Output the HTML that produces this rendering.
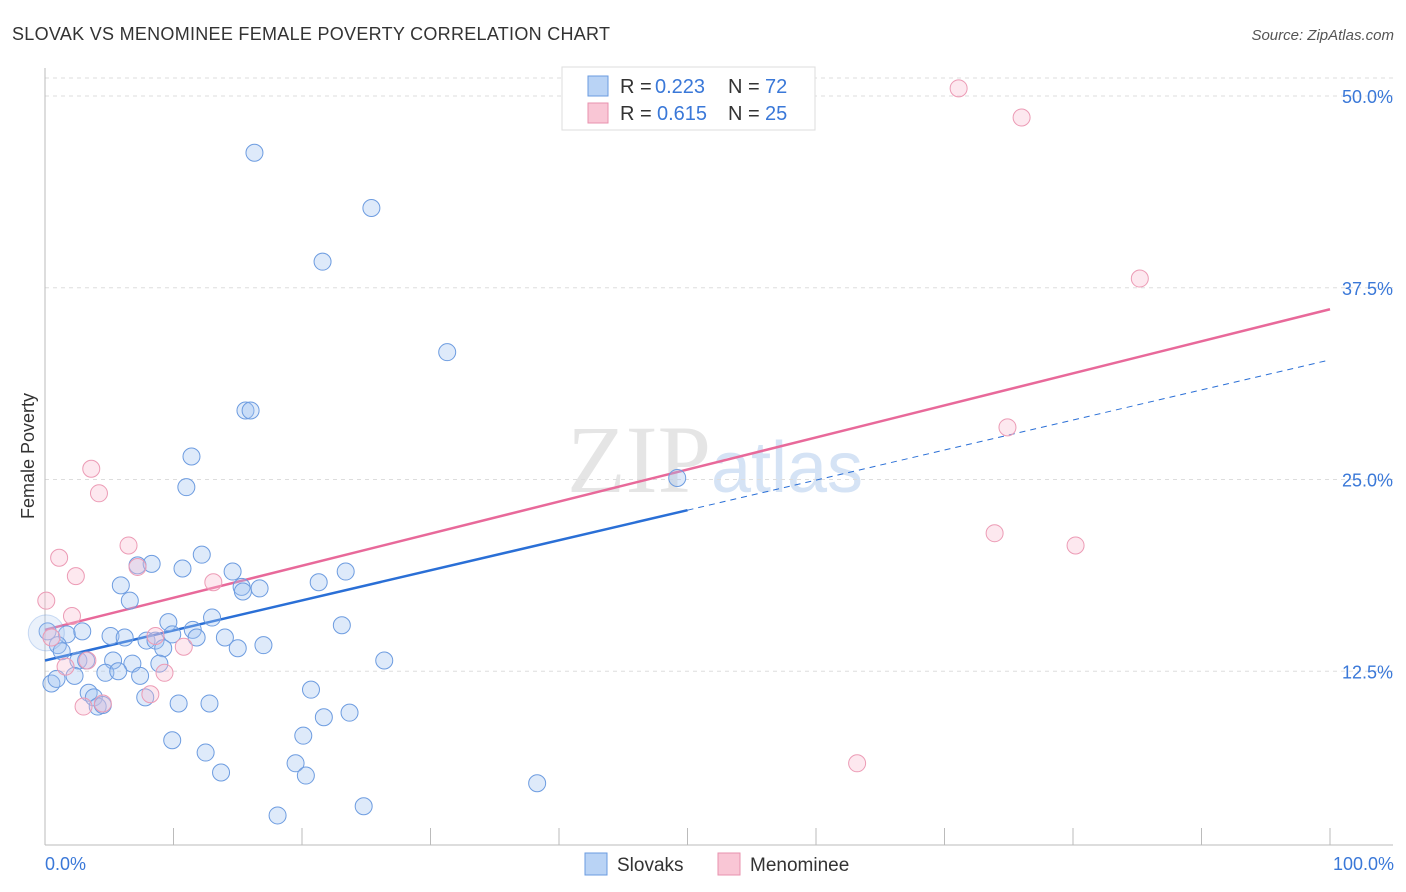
<!DOCTYPE html>
<html><head><meta charset="utf-8"><style>
body{margin:0;background:#fff;font-family:"Liberation Sans",sans-serif;}
svg{display:block}
</style></head><body>
<svg id="chart" width="1406" height="892" xmlns="http://www.w3.org/2000/svg">
<text x="12" y="40" font-size="18" fill="#333" textLength="598">SLOVAK VS MENOMINEE FEMALE POVERTY CORRELATION CHART</text>
<text x="1394" y="40" font-size="15" fill="#555" font-style="italic" text-anchor="end">Source: ZipAtlas.com</text>
<text x="34" y="456" font-size="18" fill="#333" transform="rotate(-90 34 456)" text-anchor="middle">Female Poverty</text>
<text x="715" y="492" font-size="96" fill="#e5e5e5" text-anchor="middle" font-family="Liberation Serif,serif">ZIP<tspan fill="#d5e3f5" font-family="Liberation Sans,sans-serif" font-size="72">atlas</tspan></text>
<g id="grid"></g><g id="axes"></g><g id="lines"></g><g id="pts"></g>
<g>
<rect x="562" y="67" width="253" height="63" fill="#fff" stroke="#ddd"/>
<rect x="588" y="76" width="20" height="20" fill="#b9d3f5" stroke="#6a9be0"/>
<rect x="588" y="103" width="20" height="20" fill="#f9c6d5" stroke="#e892ae"/>
<g font-size="20" fill="#333"><text x="620" y="93">R =</text><text x="655" y="93" fill="#3a78d8">0.223</text><text x="728" y="93">N =</text><text x="765" y="93" fill="#3a78d8">72</text></g>
<g font-size="20" fill="#333"><text x="620" y="120">R =</text><text x="657" y="120" fill="#3a78d8">0.615</text><text x="728" y="120">N =</text><text x="765" y="120" fill="#3a78d8">25</text></g>
</g>
<g>
<rect x="585" y="853" width="22" height="22" fill="#b9d3f5" stroke="#6a9be0"/>
<text x="617" y="871" font-size="19" fill="#333">Slovaks</text>
<rect x="718" y="853" width="22" height="22" fill="#f9c6d5" stroke="#e892ae"/>
<text x="750" y="871" font-size="19" fill="#333">Menominee</text>
</g>
<text x="45" y="870" font-size="18" fill="#3a78d8">0.0%</text>
<text x="1394" y="870" font-size="18" fill="#3a78d8" text-anchor="end">100.0%</text>
</svg>
<script>
const yTicks=[12.5,25,37.5,50];
const yTickLabels=["12.5%","25.0%","37.5%","50.0%"];
const slovakX=[16.3,25.4,21.6,31.3,15.6,16.0,11.4,11.0,49.2,12.2,7.2,8.3,10.7,14.6,23.4,21.3,5.9,15.3,16.7,15.4,6.6,9.6,13.0,23.1,0.2,1.7,2.9,5.1,6.2,7.9,8.6,9.9,11.5,11.8,14.0,15.0,17.0,9.2,1.0,1.3,2.6,3.2,5.3,6.8,8.9,26.4,2.3,4.7,5.7,7.4,0.5,0.9,3.4,3.8,7.8,20.7,10.4,12.8,4.1,4.5,21.7,23.7,20.1,9.9,12.5,19.5,13.7,20.3,38.3,24.8,18.1,0.1];
const slovakY=[46.3,42.7,39.2,33.3,29.5,29.5,26.5,24.5,25.1,20.1,19.4,19.5,19.2,19.0,19.0,18.3,18.1,18.0,17.9,17.7,17.1,15.7,16.0,15.5,15.1,14.9,15.1,14.8,14.7,14.5,14.5,14.9,15.2,14.7,14.7,14.0,14.2,14.0,14.2,13.8,13.2,13.2,13.2,13.0,13.0,13.2,12.2,12.4,12.5,12.2,11.7,12.0,11.1,10.8,10.8,11.3,10.4,10.4,10.2,10.3,9.5,9.8,8.3,8.0,7.2,6.5,5.9,5.7,5.2,3.7,3.1,15.0];
const menomineeX=[71.1,76.0,85.2,74.9,73.9,80.2,63.2,3.6,4.2,6.5,1.1,2.4,7.2,13.1,0.1,2.1,0.5,8.6,10.8,3.3,1.6,9.3,8.2,3.0,4.5];
const menomineeY=[50.5,48.6,38.1,28.4,21.5,20.7,6.5,25.7,24.1,20.7,19.9,18.7,19.3,18.3,17.1,16.1,14.7,14.8,14.1,13.2,12.8,12.4,11.0,10.2,10.4];
const slovakTrend=[13.2,32.8];
const menomineeTrend=[15.2,36.1];
const NS="http://www.w3.org/2000/svg";
const X=v=>45+v*12.85, Y=v=>863-v*15.34;
function mk(t,a,p){const e=document.createElementNS(NS,t);for(const k in a)e.setAttribute(k,a[k]);document.getElementById(p).appendChild(e);return e;}
yTicks.forEach((t,i)=>{
 const l=mk('line',{x1:45,x2:1393,y1:Y(t),y2:Y(t),stroke:'#ddd','stroke-dasharray':'4,4'},'grid');
 
 
 const tx=mk('text',{x:1393,y:Y(t)+7,'font-size':18,fill:'#3a78d8','text-anchor':'end'},'grid');tx.textContent=yTickLabels[i];
 
 
});
mk('line',{x1:45,x2:1393,y1:78,y2:78,stroke:'#ddd','stroke-dasharray':'4,4'},'grid');
mk('line',{x1:45,x2:45,y1:68,y2:845,stroke:'#bbb'},'axes');
mk('line',{x1:45,x2:1393,y1:845,y2:845,stroke:'#bbb'},'axes');
for(let i=0;i<=10;i++){mk('line',{x1:X(i*10),x2:X(i*10),y1:828,y2:845,stroke:'#bbb'},'axes');}
function trend(tr,col,dashTo){
 if(dashTo){
  const a=mk('line',{x1:X(0),y1:Y(tr[0]),x2:X(dashTo),y2:Y(tr[0]+(tr[1]-tr[0])*dashTo/100),stroke:col,'stroke-width':2.5},'lines');
  
  
  const b=mk('line',{x1:X(dashTo),y1:Y(tr[0]+(tr[1]-tr[0])*dashTo/100),x2:X(100),y2:Y(tr[1]),stroke:col,'stroke-width':1,'stroke-dasharray':'6,5'},'lines');
  
  
 } else {
  const a=mk('line',{x1:X(0),y1:Y(tr[0]),x2:X(100),y2:Y(tr[1]),stroke:col,'stroke-width':2.5},'lines');
  
  
 }
}
slovakX.forEach((x,i)=>{const big=i==slovakX.length-1;const c=mk('circle',{cx:X(x),cy:Y(slovakY[i]),r:big?18:8.5,fill:big?'rgba(170,200,240,0.25)':'rgba(160,195,240,0.35)',stroke:big?'rgba(91,143,220,0.3)':'#6d9ce0','stroke-width':1},'pts');
 
 });
menomineeX.forEach((x,i)=>{const c=mk('circle',{cx:X(x),cy:Y(menomineeY[i]),r:8.5,fill:'rgba(248,190,208,0.35)',stroke:'#ec9bb5','stroke-width':1},'pts');
 
 });
trend(menomineeTrend,'#e8699a',0);
trend(slovakTrend,'#2a6fd6',50);
</script>
</body></html>
